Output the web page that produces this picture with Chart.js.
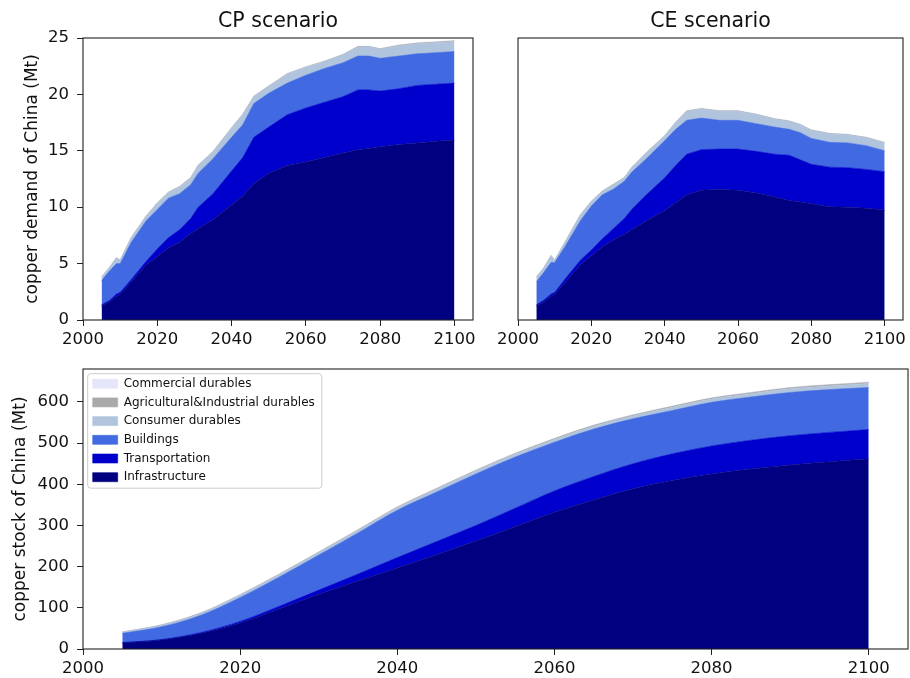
<!DOCTYPE html>
<html>
<head>
<meta charset="utf-8">
<script src="https://cdn.jsdelivr.net/npm/chart.js@4.4.1/dist/chart.umd.min.js"></script>
<style>
  html, body { margin: 0; padding: 0; background: #fff; }
  #wrap { position: relative; width: 910px; height: 678px; }
  canvas { position: absolute; }
</style>
</head>
<body>
<div id="wrap">
  <canvas id="cp" width="480" height="350" style="left:0;top:0"></canvas>
  <canvas id="ce" width="430" height="350" style="left:480px;top:0"></canvas>
  <canvas id="stock" width="910" height="328" style="left:0;top:350px"></canvas>
</div>
<script>
const sectors = ['Infrastructure', 'Transportation', 'Buildings', 'Consumer durables', 'Agricultural&Industrial durables', 'Commercial durables'];
const colors = ['#000080', '#0000cd', '#4169e1', '#b0c4de', '#a9a9a9', '#e6e6fa'];

// copper demand (Mt per year), one layer per sector
const demandYears = [2005, 2007, 2009, 2010, 2013, 2017, 2020, 2023, 2026, 2029, 2031, 2035, 2040, 2043, 2046, 2050, 2055, 2060, 2065, 2070, 2074, 2077, 2080, 2085, 2090, 2095, 2100];

const cpInfra = [1.25, 1.6, 2.1, 2.3, 3.4, 4.9, 5.6, 6.4, 6.9, 7.7, 8.1, 8.9, 10.2, 11.0, 12.1, 13.0, 13.7, 14.0, 14.4, 14.8, 15.1, 15.2, 15.35, 15.55, 15.7, 15.85, 15.95];
const cpTrans = [0.1, 0.1, 0.2, 0.15, 0.2, 0.3, 0.7, 0.9, 1.1, 1.3, 1.9, 2.3, 3.0, 3.4, 4.1, 4.1, 4.5, 4.8, 4.9, 5.0, 5.3, 5.2, 4.95, 4.95, 5.1, 5.05, 5.05];
const cpBuild = [2.15, 2.6, 2.7, 2.55, 3.3, 3.6, 3.5, 3.5, 3.2, 3.0, 3.0, 3.1, 3.0, 2.9, 3.0, 3.0, 2.8, 2.9, 3.0, 3.0, 3.0, 3.0, 2.9, 2.9, 2.8, 2.8, 2.8];
const cpConsumer = [0.3, 0.3, 0.5, 0.3, 0.4, 0.4, 0.55, 0.5, 0.6, 0.6, 0.7, 0.6, 0.8, 0.9, 0.6, 0.6, 0.8, 0.7, 0.6, 0.7, 0.8, 0.8, 0.8, 0.9, 0.9, 0.9, 0.9];
const cpAgri = [0.02, 0.02, 0.02, 0.02, 0.02, 0.03, 0.03, 0.03, 0.03, 0.03, 0.03, 0.04, 0.04, 0.04, 0.04, 0.04, 0.04, 0.04, 0.04, 0.04, 0.05, 0.05, 0.05, 0.05, 0.05, 0.05, 0.05];
const cpCommercial = [0.01, 0.01, 0.01, 0.01, 0.01, 0.01, 0.02, 0.02, 0.02, 0.02, 0.02, 0.02, 0.02, 0.02, 0.02, 0.02, 0.02, 0.02, 0.02, 0.02, 0.02, 0.02, 0.02, 0.02, 0.02, 0.02, 0.02];

const ceInfra = [1.25, 1.6, 2.1, 2.3, 3.4, 4.9, 5.7, 6.5, 7.1, 7.6, 8.0, 8.8, 9.7, 10.4, 11.1, 11.5, 11.6, 11.5, 11.25, 10.9, 10.6, 10.45, 10.3, 10.05, 10.0, 9.9, 9.75];
const ceTrans = [0.1, 0.15, 0.2, 0.15, 0.3, 0.4, 0.5, 0.7, 1.0, 1.4, 1.8, 2.3, 2.9, 3.3, 3.6, 3.6, 3.55, 3.65, 3.7, 3.8, 4.0, 3.75, 3.5, 3.5, 3.5, 3.45, 3.4];
const ceBuild = [2.05, 2.45, 2.8, 2.65, 2.9, 3.5, 3.9, 3.9, 3.5, 3.3, 3.3, 3.2, 3.3, 3.2, 3.0, 2.8, 2.55, 2.55, 2.45, 2.4, 2.3, 2.4, 2.3, 2.2, 2.2, 2.1, 1.85];
const ceConsumer = [0.4, 0.4, 0.6, 0.2, 0.4, 0.5, 0.4, 0.3, 0.4, 0.3, 0.4, 0.5, 0.4, 0.6, 0.8, 0.8, 0.8, 0.8, 0.8, 0.7, 0.7, 0.7, 0.7, 0.75, 0.7, 0.7, 0.7];
const ceAgri = [0.02, 0.02, 0.02, 0.02, 0.02, 0.03, 0.03, 0.03, 0.03, 0.03, 0.03, 0.04, 0.04, 0.04, 0.04, 0.04, 0.04, 0.04, 0.04, 0.04, 0.04, 0.04, 0.04, 0.04, 0.04, 0.04, 0.04];
const ceCommercial = [0.01, 0.01, 0.01, 0.01, 0.01, 0.01, 0.02, 0.02, 0.02, 0.02, 0.02, 0.02, 0.02, 0.02, 0.02, 0.02, 0.02, 0.02, 0.02, 0.02, 0.02, 0.02, 0.02, 0.02, 0.02, 0.02, 0.02];

// copper stock (Mt)
const stockYears = [2005, 2010, 2015, 2020, 2025, 2030, 2035, 2040, 2045, 2050, 2055, 2060, 2065, 2070, 2075, 2080, 2085, 2090, 2095, 2100];
const stInfra = [15, 22, 38, 63, 98, 133, 165, 197, 229, 262, 297, 332, 362, 389, 409, 425, 437, 447, 455, 462];
const stTrans = [0.5, 1, 2, 4, 6, 10, 17, 25, 32, 38, 45, 52, 57, 61, 65, 68, 70, 71, 71, 71];
const stBuild = [22.5, 31, 42, 58, 71, 85, 100, 115, 120, 125, 124, 118, 115, 109, 105, 106, 105, 105, 104, 102];
const stConsumer = [3, 4, 5, 6, 6, 6, 6, 6, 7, 7, 7, 7, 7, 7, 8, 8, 8, 9, 9, 10];
const stAgri = [0.5, 0.6, 0.8, 1, 1.2, 1.4, 1.5, 1.7, 1.8, 2, 2, 2.1, 2.2, 2.3, 2.3, 2.4, 2.4, 2.5, 2.5, 2.5];
const stCommercial = [0.3, 0.3, 0.4, 0.5, 0.5, 0.6, 0.6, 0.7, 0.7, 0.8, 0.8, 0.8, 0.9, 0.9, 0.9, 1, 1, 1, 1, 1];

Chart.defaults.font.family = 'DejaVu Sans';
Chart.defaults.color = '#111';

const frame = {
    id: 'frame',
    afterDatasetsDraw(chart) {
        const {ctx, chartArea: a} = chart;
        ctx.save();
        ctx.strokeStyle = '#222';
        ctx.lineWidth = 1.1;
        ctx.strokeRect(a.left, a.top, a.right - a.left, a.bottom - a.top);
        ctx.restore();
    }
};

// nudges the inside legend a bit off the axes and boxes it like matplotlib does
const legendBox = {
    id: 'legendBox',
    afterLayout(chart) {
        if (chart.legend && chart.options.plugins.legend.display) {
            chart.legend.left += 3;
            chart.legend.top = chart.chartArea.top + 2;
        }
    },
    beforeDraw(chart) {
        const lg = chart.legend;
        if (!lg || !chart.options.plugins.legend.display || !lg.legendHitBoxes.length) return;
        let l = Infinity, t = Infinity, r = -Infinity, b = -Infinity;
        lg.legendHitBoxes.forEach(h => {
            l = Math.min(l, h.left); t = Math.min(t, h.top);
            r = Math.max(r, h.left + h.width); b = Math.max(b, h.top + h.height);
        });
        const ctx = chart.ctx;
        ctx.save();
        ctx.beginPath();
        ctx.roundRect(l - 5, t - 4, r - l + 12, b - t + 9, 3);
        ctx.fillStyle = 'rgba(255,255,255,0.8)';
        ctx.fill();
        ctx.strokeStyle = '#cccccc';
        ctx.lineWidth = 1;
        ctx.stroke();
        ctx.restore();
    }
};

function stackDatasets(years, series, smooth) {
    return series.map((vals, i) => ({
        label: sectors[i],
        data: vals.map((v, j) => ({x: years[j], y: v})),
        backgroundColor: colors[i],
        borderColor: colors[i],
        borderWidth: 0.6,
        fill: i === 0 ? 'origin' : '-1',
        pointRadius: 0,
        pointHoverRadius: 0,
        tension: 0,
        cubicInterpolationMode: smooth ? 'monotone' : 'default'
    }));
}

const tickFont = {size: 16.5};

function xScale(h) {
    return {
        type: 'linear',
        min: 2000,
        max: 2105,
        border: {display: false},
        grid: {drawOnChartArea: false, drawTicks: true, tickLength: 6, tickColor: '#222'},
        ticks: {stepSize: 20, includeBounds: false, font: tickFont, color: '#111', padding: 4, maxRotation: 0,
            callback: v => String(v)},
        afterFit: s => { s.height = h; }
    };
}

function yScale(max, step, label, titlePad, show) {
    const y = {
        display: show,
        stacked: true,
        min: 0,
        max: max,
        border: {display: false},
        grid: {drawOnChartArea: false, drawTicks: true, tickLength: 6, tickColor: '#222'},
        ticks: {stepSize: step, includeBounds: false, font: tickFont, color: '#111', padding: 8,
            callback: v => String(v)},
        title: {display: true, text: label, font: {size: 17}, color: '#111', padding: {top: titlePad, bottom: 0}}
    };
    if (show) y.afterFit = s => { s.width = 83; };
    return y;
}

function demandChart(id, title, series, showY, padding) {
    new Chart(document.getElementById(id), {
        type: 'line',
        data: {datasets: stackDatasets(demandYears, series, false)},
        options: {
            responsive: false,
            animation: false,
            layout: {padding: padding},
            plugins: {
                legend: {display: false},
                tooltip: {enabled: false},
                title: {display: true, text: title, fullSize: false, font: {size: 20.5, weight: 'normal'},
                    color: '#111', padding: {top: 9.5, bottom: 3.9}}
            },
            scales: {
                x: xScale(30),
                y: yScale(25, 5, 'copper demand of China (Mt)', 22.8, showY)
            }
        },
        plugins: [frame]
    });
}

demandChart('cp', 'CP scenario', [cpInfra, cpTrans, cpBuild, cpConsumer, cpAgri, cpCommercial], true,
    {left: 0, right: 7, top: 0, bottom: 0});
demandChart('ce', 'CE scenario', [ceInfra, ceTrans, ceBuild, ceConsumer, ceAgri, ceCommercial], false,
    {left: 38, right: 2, top: 0, bottom: 0});

new Chart(document.getElementById('stock'), {
    type: 'line',
    data: {datasets: stackDatasets(stockYears, [stInfra, stTrans, stBuild, stConsumer, stAgri, stCommercial], true)},
    options: {
        responsive: false,
        animation: false,
        layout: {padding: {left: 0, right: 2, top: 19, bottom: 0}},
        plugins: {
            tooltip: {enabled: false},
            legend: {
                display: true,
                position: 'chartArea',
                align: 'start',
                reverse: true,
                labels: {boxWidth: 25, boxHeight: 9, padding: 6.7, font: {size: 12}, color: '#111'}
            }
        },
        scales: {
            x: xScale(29),
            y: yScale(680, 100, 'copper stock of China (Mt)', 10.8, true)
        }
    },
    plugins: [frame, legendBox]
});
</script>
</body>
</html>
